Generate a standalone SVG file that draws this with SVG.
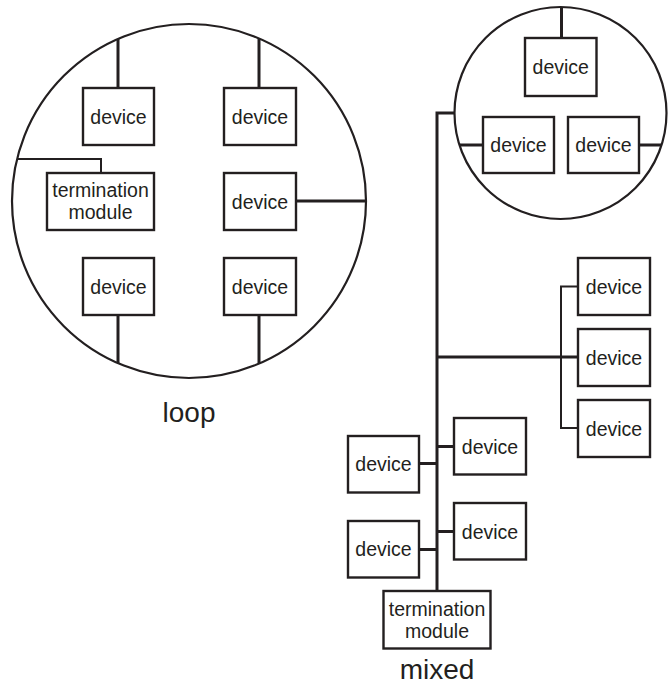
<svg xmlns="http://www.w3.org/2000/svg" width="670" height="687" viewBox="0 0 670 687">
<style>
.ring{fill:none;stroke:#231f20;stroke-width:2.2}
.box{fill:#fff;stroke:#231f20;stroke-width:2.4}
.w{fill:none;stroke:#231f20;stroke-width:3}
.t{fill:none;stroke:#231f20;stroke-width:2}
text{font-family:"Liberation Sans",Arial,sans-serif;fill:#231f20;text-anchor:middle}
.lb{font-size:19.5px}
.cap{font-size:28px}
</style>
<rect width="670" height="687" fill="#fff"/>
<g id="rings">
<circle class="ring" cx="189" cy="201" r="177"/>
<circle class="ring" cx="560.5" cy="113" r="106"/>
</g>
<g id="connectors">
<line class="w" x1="118" y1="39" x2="118" y2="88"/>
<line class="w" x1="259" y1="39" x2="259" y2="88"/>
<polyline class="t" points="17,159 101,159 101,173"/>
<line class="w" x1="296" y1="201" x2="366" y2="201"/>
<line class="w" x1="118" y1="315" x2="118" y2="363"/>
<line class="w" x1="259" y1="315" x2="259" y2="363"/>
<line class="w" x1="561.5" y1="7" x2="561.5" y2="38"/>
<line class="w" x1="459.5" y1="145" x2="483" y2="145"/>
<line class="w" x1="639" y1="145" x2="661.5" y2="145"/>
<polyline class="w" points="455,113 437,113 437,591"/>
<line class="w" x1="437" y1="357" x2="578" y2="357"/>
<polyline class="t" points="578,286.5 561,286.5 561,428 578,428"/>
<line class="w" x1="437" y1="446.5" x2="454" y2="446.5"/>
<line class="w" x1="419" y1="463.5" x2="437" y2="463.5"/>
<line class="w" x1="437" y1="531.5" x2="454" y2="531.5"/>
<line class="w" x1="419" y1="549.5" x2="437" y2="549.5"/>
</g>
<g id="loop-d1"><rect class="box" x="83" y="88" width="71" height="57"/><text class="lb" x="118.5" y="123.5">device</text></g>
<g id="loop-d2"><rect class="box" x="224" y="88" width="72" height="57"/><text class="lb" x="260" y="123.5">device</text></g>
<g id="loop-term"><rect class="box" x="47" y="173" width="107" height="57"/><text class="lb" x="100.5" y="197">termination</text><text class="lb" x="100.5" y="219">module</text></g>
<g id="loop-d3"><rect class="box" x="224" y="173" width="72" height="57"/><text class="lb" x="260" y="208.5">device</text></g>
<g id="loop-d4"><rect class="box" x="83" y="258" width="71" height="57"/><text class="lb" x="118.5" y="293.5">device</text></g>
<g id="loop-d5"><rect class="box" x="224" y="258" width="72" height="57"/><text class="lb" x="260" y="293.5">device</text></g>
<g id="loop-label"><text class="cap" x="189" y="422">loop</text></g>
<g id="ring-d1"><rect class="box" x="525" y="38" width="71.5" height="58"/><text class="lb" x="560.75" y="74">device</text></g>
<g id="ring-d2"><rect class="box" x="483" y="117" width="71" height="56"/><text class="lb" x="518.5" y="152">device</text></g>
<g id="ring-d3"><rect class="box" x="568" y="117" width="71" height="56"/><text class="lb" x="603.5" y="152">device</text></g>
<g id="br-d1"><rect class="box" x="578" y="258" width="72" height="57"/><text class="lb" x="614" y="293.5">device</text></g>
<g id="br-d2"><rect class="box" x="578" y="329" width="72" height="57"/><text class="lb" x="614" y="364.5">device</text></g>
<g id="br-d3"><rect class="box" x="578" y="400" width="72" height="57"/><text class="lb" x="614" y="435.5">device</text></g>
<g id="bus-d1"><rect class="box" x="454" y="418" width="72" height="56.5"/><text class="lb" x="490" y="453.5">device</text></g>
<g id="bus-d2"><rect class="box" x="348" y="436" width="71" height="56.5"/><text class="lb" x="383.5" y="471">device</text></g>
<g id="bus-d3"><rect class="box" x="454" y="503" width="72" height="56.5"/><text class="lb" x="490" y="538.5">device</text></g>
<g id="bus-d4"><rect class="box" x="348" y="521" width="71" height="56.5"/><text class="lb" x="383.5" y="556">device</text></g>
<g id="bus-term"><rect class="box" x="383.5" y="591" width="107" height="57.5"/><text class="lb" x="437" y="616">termination</text><text class="lb" x="437" y="638">module</text></g>
<g id="mixed-label"><text class="cap" x="437" y="679">mixed</text></g>
</svg>
